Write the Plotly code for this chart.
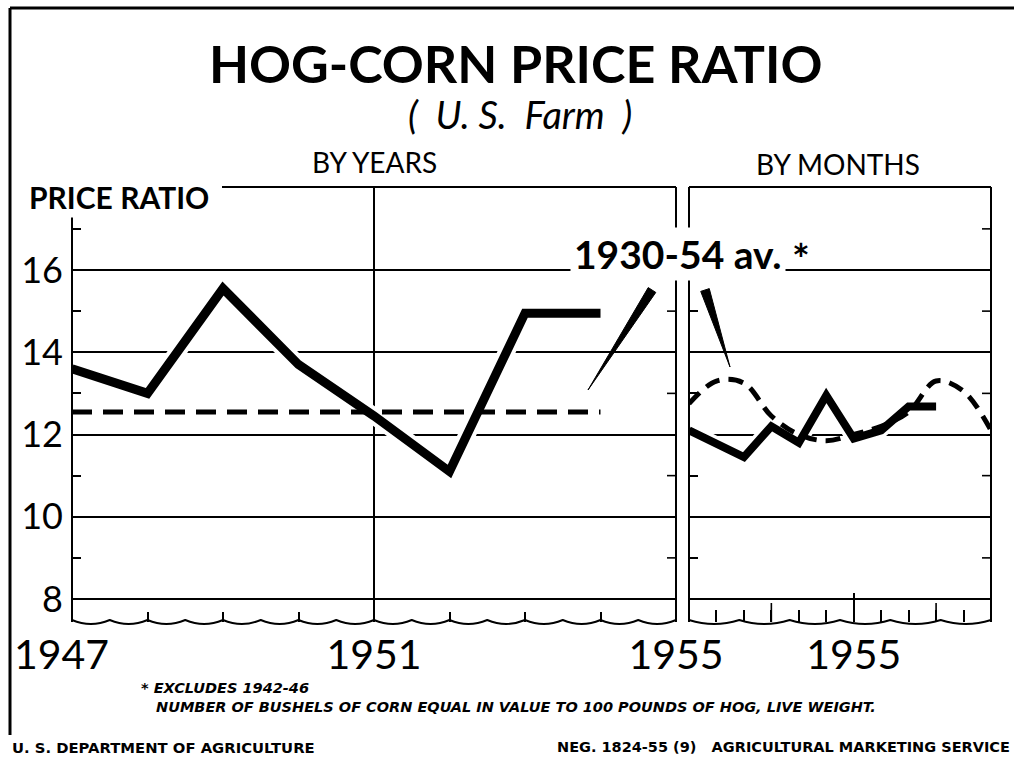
import plotly.graph_objects as go

# ---------------- data ----------------
years = [1947, 1948, 1949, 1950, 1951, 1952, 1953, 1954]
hog_corn_by_year = [13.6, 13.0, 15.55, 13.7, 12.45, 11.1, 14.95, 14.95]
avg_1930_54_by_year = [12.55, 12.55, 12.55, 12.55, 12.55, 12.55, 12.55, 12.55]

month_pos = [0, 1, 2, 3, 4, 5, 6, 7, 8, 9, 10, 11]
hog_corn_by_month = [12.1, 11.8, 11.45, 12.2, 11.8, 12.95, 11.9, 12.1, 12.68, 12.68]
avg_1930_54_by_month = [12.75, 13.3, 13.25, 12.45, 12.0, 11.85, 12.0, 12.2, 12.55, 13.3, 13.05, 12.1]

y_grid_vals = [8, 10, 12, 14, 16]
y_grid_text = ["8", "10", "12", "14", "16"]
y_minor_vals = [9, 11, 13, 15, 17]
year_tick_vals = [1947, 1951, 1955]
year_tick_text = ["1947\u00a0\u00a0", "1951", "1955"]
year_minor_vals = [1948, 1949, 1950, 1952, 1953, 1954]
month_tick_vals = [6]
month_tick_text = ["1955"]
month_minor_vals = [1, 2, 3, 4, 5, 7, 8, 9, 10]

# ---------------- geometry (pixels) ----------------
W, H = 1014, 763
PL, PR = 72, 676        # yearly panel
QL, QR = 689, 991       # monthly panel
PT, PB = 187, 622       # top / bottom of both panels
Y_RANGE = [7.441, 18.018]
FONT = "Lato"


def X(px):
    return px / W


def Y(py):
    return 1 - py / H


fig = go.Figure()

# yearly panel
fig.add_trace(go.Scatter(x=years, y=hog_corn_by_year, mode="lines",
                         line=dict(color="white", width=17), hoverinfo="skip",
                         xaxis="x", yaxis="y", showlegend=False))
fig.add_trace(go.Scatter(x=years, y=avg_1930_54_by_year, mode="lines",
                         line=dict(color="black", width=5, dash="20px,11px"),
                         xaxis="x", yaxis="y", showlegend=False))
fig.add_trace(go.Scatter(x=years, y=hog_corn_by_year, mode="lines",
                         line=dict(color="black", width=9),
                         xaxis="x", yaxis="y", showlegend=False))

# monthly panel
fig.add_trace(go.Scatter(x=month_pos[:len(hog_corn_by_month)], y=hog_corn_by_month, mode="lines",
                         line=dict(color="white", width=15), hoverinfo="skip",
                         xaxis="x2", yaxis="y2", showlegend=False))
fig.add_trace(go.Scatter(x=month_pos, y=avg_1930_54_by_month, mode="lines",
                         line=dict(color="black", width=5, dash="15px,9px", shape="spline", smoothing=1),
                         xaxis="x2", yaxis="y2", showlegend=False))
fig.add_trace(go.Scatter(x=month_pos[:len(hog_corn_by_month)], y=hog_corn_by_month, mode="lines",
                         line=dict(color="black", width=8),
                         xaxis="x2", yaxis="y2", showlegend=False))

ydom = [Y(PB), Y(PT)]
common_y = dict(range=Y_RANGE, domain=ydom, tickvals=y_grid_vals, showgrid=True,
                gridcolor="black", gridwidth=1.6, zeroline=False, showline=False,
                ticks="", automargin=False,
                minor=dict(tickvals=y_minor_vals, ticks="inside", ticklen=9,
                           tickwidth=1.6, tickcolor="black", showgrid=False))

fig.update_layout(
    width=W, height=H, autosize=False,
    margin=dict(l=0, r=0, t=0, b=0, pad=0),
    paper_bgcolor="white", plot_bgcolor="white",
    showlegend=False,
    font=dict(family=FONT, color="black"),
    xaxis=dict(domain=[X(PL), X(PR)], range=[1947, 1955], tickvals=year_tick_vals,
               ticktext=year_tick_text, showgrid=True, gridcolor="black", gridwidth=1.6,
               zeroline=False, showline=False, ticks="", automargin=False,
               tickfont=dict(size=41, family=FONT), ticklabelstandoff=5,
               minor=dict(tickvals=year_minor_vals, ticks="inside", ticklen=10,
                          tickwidth=1.6, tickcolor="black", showgrid=False),
               anchor="y"),
    yaxis=dict(**common_y, showticklabels=True, ticktext=y_grid_text,
               tickfont=dict(size=36, family=FONT), ticklabelstandoff=8, anchor="x"),
    xaxis2=dict(domain=[X(QL), X(QR)], range=[0, 11], tickvals=month_tick_vals,
                ticktext=month_tick_text, showgrid=False, zeroline=False, showline=False,
                ticks="inside", ticklen=29, tickwidth=1.6, tickcolor="black", automargin=False,
                tickfont=dict(size=41, family=FONT), ticklabelstandoff=5,
                minor=dict(tickvals=month_minor_vals, ticks="inside", ticklen=12,
                           tickwidth=1.6, tickcolor="black", showgrid=False),
                anchor="y2"),
    yaxis2=dict(**common_y, showticklabels=False, anchor="x2"),
)

shapes = []
LW = 2


def seg(x0, y0, x1, y1, w=LW):
    shapes.append(dict(type="line", xref="paper", yref="paper",
                       x0=X(x0), y0=Y(y0), x1=X(x1), y1=Y(y1),
                       line=dict(color="black", width=w), layer="above"))


# outer frame
seg(10, 8, W, 8, 3)
seg(10, 8, 10, 735, 3)
# yearly panel frame
seg(222, PT, PR, PT)
seg(PR, PT, PR, PB)
seg(PL, 212, PL, PB)
# monthly panel frame
seg(QL, PT, QR, PT)
seg(QL, PT, QL, PB)
seg(QR, PT, QR, PB)

# inward ticks on the right-hand edge of each panel
for xr, yr, wpx in [("x domain", "y", PR - PL), ("x2 domain", "y2", QR - QL)]:
    for v in y_minor_vals:
        shapes.append(dict(type="line", xref=xr, yref=yr, x0=1 - 9 / wpx, x1=1, y0=v, y1=v,
                           line=dict(color="black", width=1.6), layer="above"))


def wave(x0, x1, n, base=PB):
    step = (x1 - x0) / n
    top = base - 2
    d = f"M {X(x0)},{Y(top)}"
    for i in range(n):
        a = x0 + i * step
        b = a + step
        d += f" Q {X((a + b) / 2)},{Y(top + 8)} {X(b)},{Y(top)}"
    return d


for (a, b, n) in [(PL, PR, 16), (QL, QR, 6)]:
    shapes.append(dict(type="path", xref="paper", yref="paper", path=wave(a, b, n),
                       line=dict(color="black", width=LW), layer="above"))

# taller quarter ticks in the monthly panel
for q in [3, 9]:
    shapes.append(dict(type="line", xref="x2", yref="y2 domain", x0=q, x1=q,
                       y0=0, y1=19 / (PB - PT), line=dict(color="black", width=1.6),
                       layer="above"))


def wedge(top, tip, half):
    (tx, ty), (px, py) = top, tip
    dx, dy = tx - px, ty - py
    L = (dx * dx + dy * dy) ** 0.5
    nx, ny = -dy / L * half, dx / L * half
    return (f"M {X(px)},{Y(py)} L {X(tx + nx)},{Y(ty + ny)} "
            f"L {X(tx - nx)},{Y(ty - ny)} Z")


for top, tip in [((652, 290), (588, 390)), ((705, 290), (730, 367))]:
    shapes.append(dict(type="path", xref="paper", yref="paper", path=wedge(top, tip, 4.5),
                       fillcolor="black", line=dict(color="black", width=1), layer="above"))

fig.update_layout(shapes=shapes)

ann = []


def text(x, y, s, size, bold=False, italic=False, xanchor="center", bg=None, family=FONT, pad=1):
    if bold:
        s = f"<b>{s}</b>"
    if italic:
        s = f"<i>{s}</i>"
    d = dict(xref="paper", yref="paper", x=X(x), y=Y(y), text=s, showarrow=False,
             xanchor=xanchor, yanchor="middle", font=dict(size=size, family=family, color="black"))
    if bg:
        d.update(bgcolor=bg, borderpad=pad)
    ann.append(d)


text(515, 63, "HOG-CORN PRICE RATIO", 52, bold=True)
text(520, 114, "(  U. S.  Farm  )", 38, italic=True)
text(374, 162, "BY YEARS", 28)
text(838, 164, "BY MONTHS", 28)
text(26, 197, "PRICE RATIO", 30, bold=True, xanchor="left", bg="white", pad=2)
text(678, 254, "1930-54 av.", 39, bold=True, bg="white", pad=3)
text(801, 259, "*", 42, bold=True)
text(139, 688, "* EXCLUDES 1942-46", 14.5, bold=True, italic=True, xanchor="left", family="DejaVu Sans")
text(154, 707, "NUMBER OF BUSHELS OF CORN EQUAL IN VALUE TO 100 POUNDS OF HOG, LIVE WEIGHT.", 14.5,
     bold=True, italic=True, xanchor="left", family="DejaVu Sans")
text(10, 747, "U. S. DEPARTMENT OF AGRICULTURE", 14.8, bold=True, xanchor="left", family="DejaVu Sans")
text(1012, 747, "NEG. 1824-55 (9)   AGRICULTURAL MARKETING SERVICE", 14.5, bold=True,
     xanchor="right", family="DejaVu Sans")

fig.update_layout(annotations=ann)

fig.write_html("out.html", config={"displayModeBar": False},
               post_script="document.body.style.margin='0';")
